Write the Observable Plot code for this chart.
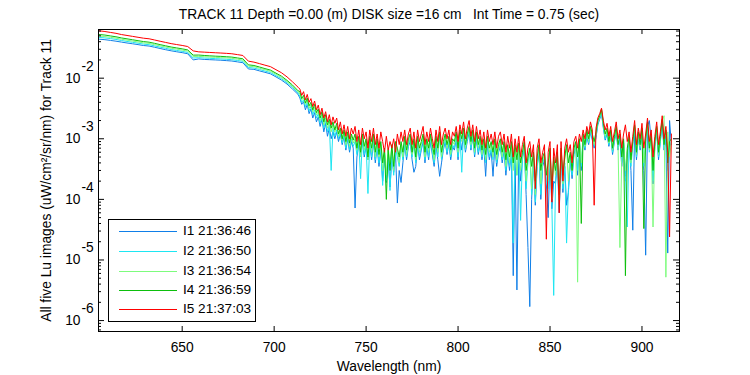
<!DOCTYPE html>
<html><head><meta charset="utf-8">
<script src="https://cdn.jsdelivr.net/npm/d3@7"></script>
<script src="https://cdn.jsdelivr.net/npm/@observablehq/plot@0.6"></script>
<style>
body{margin:0;background:#fff;}
#wrap{position:relative;width:750px;height:375px;font-family:"Liberation Sans",Arial,sans-serif;color:#000;}
#legend{position:absolute;left:108px;top:219px;width:148px;height:103px;border:1px solid #000;box-sizing:border-box;background:#fff;font-size:13.6px;}
.row{position:absolute;left:0;height:18px;line-height:18px;width:100%;}
.ln{position:absolute;left:10px;top:9px;width:58px;height:1px;}
.tx{position:absolute;left:74px;top:0;white-space:nowrap;}
</style>
</head><body>
<div id="wrap"><div id="chart"></div><div id="legend"></div></div>
<script>
const title = "TRACK 11 Depth =0.00 (m) DISK size =16 cm\u00a0\u00a0 Int Time = 0.75 (sec)";
const xLabel = "Wavelength (nm)";
const yLabel = "All five Lu images (uW/cm\u00b2/sr/nm) for Track 11";
const seriesNames = ["I1 21:36:46","I2 21:36:50","I3 21:36:54","I4 21:36:59","I5 21:37:03"];
const seriesColors = ["#0f7fe8","#1ee6f2","#7dfc7d","#0cbf0c","#ff0000"];
const xTicks = [650,700,750,800,850,900];
const yMajor = [1e-6,1e-5,1e-4,1e-3,1e-2];
const yExp = ["-6","-5","-4","-3","-2"];
const decades = [1e-7,1e-6,1e-5,1e-4,1e-3,1e-2];
const minorMult = [2,3,4,5,6,7,8,9];

const wavelength = [605,608,611,614,617,620,623,626,629,632,635,638,641,644,647,650,653,656,659,662,665,668,671,674,677,680,683,686,689,692,695,698,701,704,707,710,713,
714,715,716,717,718,719,720,721,722,723,
724,725,726,727,728,729,730,731,732,733,
734,735,736,737,738,739,740,741,742,743,
744,745,746,747,748,749,750,751,752,753,
754,755,756,757,758,759,760,761,762,763,
764,765,766,767,768,769,770,771,772,773,
774,775,776,777,778,779,780,781,782,783,
784,785,786,787,788,789,790,791,792,793,
794,795,796,797,798,799,800,801,802,803,
804,805,806,807,808,809,810,811,812,813,
814,815,816,817,818,819,820,821,822,823,
824,825,826,827,828,829,830,831,832,833,
834,835,836,837,838,839,840,841,842,843,
844,845,846,847,848,849,850,851,852,853,
854,855,856,857,858,859,860,861,862,863,
864,865,866,867,868,869,870,871,872,873,
874,875,876,877,878,879,880,881,882,883,
884,885,886,887,888,889,890,891,892,893,
894,895,896,897,898,899,900,901,902,903,
904,905,906,907,908,909,910,911,912,913,
914,915,916];

const I5 = [.0605,.0589,.0569,.0550,.0525,.0507,.0490,.0473,.0457,.0447,.0427,.0407,.0389,.0372,.0359,.0347,.0333,.0282,.0272,.0269,.0266,.0263,.0260,.0257,.0253,.0245,.0237,.0191,.0184,.0174,.0164,.0155,.0138,.0123,.0105,.0087,.0071,
66e-4,52e-4,60e-4,44e-4,54e-4,40e-4,46e-4,34e-4,42e-4,30e-4,
36e-4,25e-4,32e-4,22e-4,28e-4,19e-4,25e-4,17e-4,23e-4,18e-4,
22e-4,14e-4,19e-4,12e-4,17e-4,11e-4,16e-4,10e-4,15e-4,12e-4,
16e-4,9e-4,14e-4,8e-4,15e-4,10e-4,13e-4,7e-4,14e-4,9e-4,
15e-4,8e-4,12e-4,7e-4,13e-4,9e-4,6e-4,11e-4,6.5e-4,9e-4,
7e-4,10e-4,6e-4,12e-4,8e-4,13e-4,9e-4,14e-4,8e-4,12e-4,
15e-4,8e-4,13e-4,7e-4,14e-4,9e-4,12e-4,16e-4,8e-4,13e-4,
9e-4,15e-4,10e-4,7e-4,14e-4,9e-4,16e-4,8e-4,12e-4,15e-4,
10e-4,14e-4,8e-4,13e-4,11e-4,16e-4,9e-4,17e-4,12e-4,19e-4,
10e-4,15e-4,20e-4,11e-4,17e-4,9e-4,16e-4,10e-4,14e-4,8e-4,
13e-4,7e-4,14e-4,9e-4,12e-4,8e-4,13e-4,7e-4,11e-4,13e-4,
8e-4,12e-4,6e-4,11e-4,7e-4,12e-4,5e-4,10e-4,6e-4,11e-4,
5e-4,8e-4,11e-4,4e-4,7e-4,9e-4,5e-4,8e-4,1.5e-4,7e-4,
10e-4,4e-4,6e-4,8e-4,.22e-4,6e-4,9e-4,.9e-4,7e-4,4e-4,
8e-4,.6e-4,9e-4,2e-4,7e-4,10e-4,6e-4,8e-4,4e-4,9e-4,
11e-4,7e-4,12e-4,9e-4,14e-4,10e-4,16e-4,12e-4,19e-4,14e-4,
.8e-4,15e-4,22e-4,26e-4,32e-4,20e-4,14e-4,18e-4,11e-4,16e-4,
9e-4,13e-4,19e-4,10e-4,14e-4,7e-4,12e-4,17e-4,9e-4,13e-4,
6e-4,11e-4,20e-4,8e-4,15e-4,10e-4,18e-4,7e-4,12e-4,22e-4,
9e-4,14e-4,5e-4,11e-4,19e-4,8e-4,13e-4,24e-4,10e-4,16e-4,
6e-4,.24e-4,12e-4];

const I4 = [.0525,.0515,.0498,.0482,.0462,.0446,.0431,.0416,.0402,.0393,.0376,.0358,.0342,.0327,.0316,.0305,.0293,.0240,.0241,.0237,.0234,.0231,.0229,.0226,.0223,.0216,.0209,.0166,.0162,.0153,.0144,.0136,.0121,.0108,.0092,.0077,.0062,
60e-4,46e-4,52e-4,39e-4,47e-4,35e-4,40e-4,30e-4,37e-4,27e-4,
31e-4,22e-4,28e-4,19e-4,25e-4,17e-4,21e-4,15e-4,19e-4,14e-4,
18e-4,12e-4,15e-4,10e-4,14e-4,9e-4,13e-4,8.5e-4,12e-4,9.5e-4,
12e-4,7e-4,11e-4,6e-4,12e-4,7.5e-4,10e-4,5e-4,11e-4,7e-4,
12e-4,6e-4,10e-4,5.5e-4,9e-4,4e-4,7e-4,1e-4,6.5e-4,3e-4,
8e-4,3.5e-4,9e-4,7e-4,5e-4,9e-4,6e-4,11e-4,6.5e-4,10e-4,
12e-4,6e-4,10e-4,5e-4,11e-4,7e-4,9e-4,12e-4,6e-4,10e-4,
7e-4,12e-4,8e-4,5.5e-4,11e-4,7e-4,13e-4,6e-4,9e-4,12e-4,
8e-4,11e-4,6.5e-4,10e-4,9e-4,13e-4,7e-4,14e-4,10e-4,15e-4,
8e-4,12e-4,16e-4,9e-4,14e-4,7e-4,13e-4,8e-4,11e-4,6.5e-4,
10e-4,5.5e-4,11e-4,7e-4,9e-4,6e-4,10e-4,5.5e-4,8e-4,10e-4,
6e-4,9e-4,4.5e-4,8e-4,5e-4,9e-4,4e-4,8e-4,4.5e-4,8.5e-4,
4e-4,6e-4,9e-4,3e-4,5e-4,7e-4,3.5e-4,6e-4,2e-4,5e-4,
8e-4,3e-4,5e-4,6e-4,2.5e-4,4e-4,7e-4,1.5e-4,5e-4,3e-4,
6e-4,1.2e-4,7e-4,2.5e-4,5e-4,8e-4,4e-4,6e-4,3e-4,7e-4,
9e-4,5e-4,10e-4,.4e-4,12e-4,8e-4,14e-4,10e-4,16e-4,12e-4,
9e-4,13e-4,20e-4,24e-4,31e-4,18e-4,12e-4,15e-4,9e-4,14e-4,
7e-4,11e-4,16e-4,8e-4,12e-4,5e-4,10e-4,.055e-4,7e-4,11e-4,
4.5e-4,9e-4,17e-4,6e-4,13e-4,8e-4,15e-4,.33e-4,10e-4,19e-4,
7e-4,12e-4,3e-4,9e-4,16e-4,6e-4,11e-4,21e-4,8e-4,14e-4,
4e-4,9e-4,10e-4];

const I3 = [.0495,.0487,.0472,.0458,.0440,.0424,.0410,.0396,.0383,.0375,.0358,.0342,.0327,.0312,.0302,.0291,.0280,.0228,.0229,.0226,.0223,.0221,.0218,.0216,.0213,.0206,.0199,.0158,.0155,.0146,.0138,.0130,.0116,.0103,.0088,.0073,.0060,
55e-4,44e-4,47e-4,37e-4,43e-4,32e-4,37e-4,28e-4,33e-4,25e-4,
28e-4,20e-4,25e-4,17e-4,22e-4,15e-4,19e-4,13e-4,17e-4,13e-4,
16e-4,11e-4,14e-4,9.5e-4,13e-4,8e-4,12e-4,7.5e-4,11e-4,8.5e-4,
10e-4,6.5e-4,10e-4,5e-4,11e-4,6.5e-4,9e-4,4.5e-4,10e-4,6e-4,
11e-4,5e-4,9e-4,5e-4,8e-4,3e-4,6.5e-4,2.5e-4,7e-4,4e-4,
7.5e-4,3e-4,8e-4,6e-4,4e-4,8e-4,5e-4,10e-4,5.5e-4,9e-4,
11e-4,5.5e-4,9e-4,4.5e-4,10e-4,6e-4,8e-4,11e-4,5e-4,9e-4,
6e-4,11e-4,7e-4,4.5e-4,10e-4,6e-4,12e-4,5e-4,8e-4,11e-4,
7e-4,10e-4,5.5e-4,9e-4,8e-4,12e-4,6e-4,13e-4,9e-4,14e-4,
7e-4,11e-4,15e-4,8e-4,13e-4,6e-4,12e-4,7e-4,10e-4,5.5e-4,
9e-4,4.5e-4,10e-4,6e-4,8e-4,5e-4,9e-4,4.5e-4,7e-4,9e-4,
5e-4,8e-4,3.5e-4,7e-4,4e-4,8e-4,3e-4,7e-4,2.5e-4,7.5e-4,
3e-4,5.5e-4,8.5e-4,2e-4,4.5e-4,6.5e-4,1.5e-4,5.5e-4,1.2e-4,4.5e-4,
7e-4,1.8e-4,4.5e-4,5.5e-4,3e-4,2e-4,6.5e-4,1e-4,4.5e-4,2.5e-4,
5.5e-4,.9e-4,6.5e-4,1.8e-4,4.5e-4,7.5e-4,2e-4,5.5e-4,3e-4,6.5e-4,
8.5e-4,.043e-4,9.5e-4,4e-4,11e-4,7.5e-4,13e-4,9e-4,15e-4,11e-4,
8e-4,12e-4,19e-4,23e-4,29e-4,17e-4,11e-4,14e-4,8.5e-4,13e-4,
6.5e-4,10e-4,15e-4,7.5e-4,.16e-4,4.5e-4,9.5e-4,3e-4,6.5e-4,10e-4,
4e-4,8.5e-4,16e-4,5.5e-4,12e-4,7.5e-4,14e-4,4e-4,9.5e-4,18e-4,
6.5e-4,11e-4,.35e-4,8.5e-4,15e-4,5.5e-4,10e-4,20e-4,24e-4,.052e-4,
13e-4,5e-4,9e-4];

const I2 = [.0470,.0462,.0450,.0436,.0418,.0404,.0391,.0378,.0365,.0357,.0341,.0325,.0311,.0297,.0287,.0277,.0266,.0215,.0218,.0215,.0213,.0210,.0208,.0205,.0202,.0196,.0190,.0150,.0147,.0139,.0131,.0124,.0110,.0098,.0084,.0070,.0057,
50e-4,40e-4,44e-4,34e-4,40e-4,29e-4,34e-4,25e-4,30e-4,22e-4,
26e-4,18e-4,23e-4,15e-4,20e-4,13e-4,17e-4,3e-4,15e-4,11e-4,
14e-4,10e-4,13e-4,8.5e-4,12e-4,7e-4,11e-4,6.5e-4,10e-4,7.5e-4,
9e-4,5.5e-4,9e-4,2.2e-4,10e-4,5.5e-4,8e-4,1.25e-4,9e-4,5e-4,
10e-4,4.5e-4,8e-4,4e-4,7e-4,1.7e-4,6e-4,2e-4,5.5e-4,1.4e-4,
6e-4,2.5e-4,7e-4,5e-4,3.5e-4,7e-4,4.5e-4,9e-4,5e-4,8e-4,
10e-4,5e-4,8e-4,4e-4,9e-4,5e-4,7e-4,10e-4,4.5e-4,8e-4,
5e-4,10e-4,6e-4,4e-4,9e-4,5e-4,11e-4,4.5e-4,7e-4,10e-4,
6e-4,9e-4,5e-4,8e-4,7e-4,11e-4,5e-4,12e-4,2.8e-4,13e-4,
6.5e-4,10e-4,14e-4,7e-4,12e-4,5.5e-4,11e-4,6e-4,9e-4,5e-4,
8e-4,4e-4,9e-4,5e-4,7e-4,4.5e-4,8e-4,4e-4,6.5e-4,8e-4,
4.5e-4,7e-4,3e-4,6e-4,3.5e-4,7e-4,.19e-4,6e-4,2.5e-4,6.5e-4,
.45e-4,5e-4,8e-4,1.5e-4,4e-4,6e-4,1.2e-4,5e-4,.9e-4,4e-4,
6.5e-4,1.2e-4,4e-4,5e-4,2e-4,1.5e-4,6e-4,.8e-4,.026e-4,2e-4,
5e-4,.7e-4,6e-4,1.5e-4,4e-4,.19e-4,1.5e-4,5e-4,2.5e-4,6e-4,
8e-4,3e-4,9e-4,3.5e-4,10e-4,7e-4,12e-4,8.5e-4,14e-4,10e-4,
7.5e-4,11e-4,18e-4,22e-4,27e-4,16e-4,10e-4,13e-4,8e-4,12e-4,
6e-4,9.5e-4,14e-4,7e-4,11e-4,4e-4,9e-4,2.5e-4,.35e-4,9.5e-4,
3.5e-4,8e-4,15e-4,5e-4,11e-4,7e-4,13e-4,3.5e-4,9e-4,17e-4,
6e-4,10e-4,2e-4,8e-4,14e-4,5e-4,9.5e-4,19e-4,7e-4,11e-4,
3e-4,7e-4,9e-4];

const I1 = [.0440,.0432,.0420,.0408,.0394,.0381,.0370,.0358,.0346,.0339,.0324,.0309,.0295,.0283,.0273,.0264,.0253,.0200,.0208,.0204,.0202,.0200,.0198,.0195,.0192,.0186,.0180,.0142,.0140,.0132,.0125,.0118,.0105,.0093,.0080,.0066,.0054,
47e-4,37e-4,41e-4,30e-4,37e-4,26e-4,31e-4,22e-4,27e-4,19e-4,
23e-4,16e-4,21e-4,13e-4,18e-4,11e-4,15e-4,10e-4,13e-4,10e-4,
13e-4,9e-4,12e-4,8e-4,11e-4,6.5e-4,10e-4,6e-4,9e-4,7e-4,
.72e-4,5e-4,8e-4,5.5e-4,9e-4,5e-4,7.5e-4,4.5e-4,8.5e-4,4.5e-4,
9e-4,4e-4,7.5e-4,3.5e-4,6.5e-4,2e-4,5.5e-4,1.9e-4,5e-4,1.6e-4,
5e-4,2.8e-4,6e-4,.87e-4,3e-4,1.9e-4,4e-4,8e-4,4.5e-4,7.5e-4,
9e-4,4.5e-4,2.8e-4,3.5e-4,8e-4,4.5e-4,6.5e-4,9e-4,4e-4,7.5e-4,
4.5e-4,9e-4,5.5e-4,3.5e-4,8e-4,4.5e-4,2.4e-4,4e-4,6.5e-4,9e-4,
5.5e-4,8.5e-4,4.5e-4,7.5e-4,6.5e-4,10e-4,4.5e-4,11e-4,6.5e-4,12e-4,
6e-4,9e-4,13e-4,6.5e-4,11e-4,5e-4,10e-4,5.5e-4,8.5e-4,4.5e-4,
7.5e-4,2.4e-4,8.5e-4,4.5e-4,6.5e-4,2.4e-4,7.5e-4,3.5e-4,6e-4,7.5e-4,
4e-4,6.5e-4,2.5e-4,5.5e-4,3e-4,6.5e-4,.055e-4,5.5e-4,.032e-4,6e-4,
2e-4,4.5e-4,7.5e-4,1.2e-4,.16e-4,.017e-4,1e-4,4.5e-4,.8e-4,3.5e-4,
6e-4,1e-4,3.5e-4,4.5e-4,1.8e-4,.5e-4,5.5e-4,.7e-4,2e-4,1.8e-4,
4.5e-4,.6e-4,5.5e-4,1.3e-4,3.5e-4,.8e-4,1.3e-4,4.5e-4,2.2e-4,5.5e-4,
7.5e-4,2.5e-4,8.5e-4,3e-4,9.5e-4,6.5e-4,11e-4,8e-4,13e-4,9.5e-4,
7e-4,10.5e-4,17e-4,21e-4,26e-4,15e-4,9.5e-4,12e-4,7.5e-4,11.5e-4,
5.5e-4,9e-4,13e-4,6.5e-4,10.5e-4,3.5e-4,8.5e-4,2e-4,6e-4,9e-4,
3e-4,.31e-4,14e-4,4.5e-4,10.5e-4,6.5e-4,12e-4,3e-4,.12e-4,16e-4,
20e-4,9.5e-4,1.8e-4,7.5e-4,13e-4,4.5e-4,9e-4,18e-4,6.5e-4,10.5e-4,
.13e-4,20e-4,8e-4];

const series = [I1, I2, I3, I4, I5];
const yDomain = [6.6e-7, 0.0636];
const yMinor = decades.flatMap(d => minorMult.map(m => d * m)).filter(v => v > yDomain[0] && v < yDomain[1]);

const lineMarks = series.map((s, k) => Plot.line(
  wavelength.map((w, i) => ({wl: w, v: s[i]})),
  {x: "wl", y: "v", stroke: seriesColors[k], strokeWidth: 1, clip: true}
));

const chart = Plot.plot({
  width: 750, height: 375,
  marginLeft: 98, marginRight: 71, marginTop: 29, marginBottom: 44,
  x: {domain: [604.5, 920.4], axis: null},
  y: {type: "log", domain: yDomain, axis: null},
  style: {fontFamily: "Liberation Sans, Arial, sans-serif", fontSize: "13.8px", background: "white", overflow: "visible", color: "black"},
  marks: [
    ...lineMarks,
    Plot.frame({stroke: "black", strokeWidth: 1}),
    Plot.ruleX(xTicks, {x: d => d, insetTop: 297, stroke: "black"}),
    Plot.ruleX(xTicks, {x: d => d, insetBottom: 297, stroke: "black"}),
    Plot.ruleY(yMajor, {y: d => d, insetRight: 575, stroke: "black"}),
    Plot.ruleY(yMajor, {y: d => d, insetLeft: 575, stroke: "black"}),
    Plot.ruleY(yMinor, {y: d => d, insetRight: 578, stroke: "black"}),
    Plot.ruleY(yMinor, {y: d => d, insetLeft: 578, stroke: "black"}),
    Plot.text(xTicks, {x: d => d, frameAnchor: "bottom", lineAnchor: "middle", dy: 16, text: d => String(d), fill: "black"}),
    Plot.text(yMajor, {y: d => d, frameAnchor: "left", lineAnchor: "middle", dx: -18, textAnchor: "end", text: () => "10", fill: "black"}),
    Plot.text(yMajor, {y: d => d, frameAnchor: "left", lineAnchor: "middle", dx: -17, dy: -12, textAnchor: "start", text: (d, i) => yExp[i], fill: "black"}),
    Plot.text([title], {frameAnchor: "top", lineAnchor: "middle", textAnchor: "middle", dy: -15, text: d => d, fill: "black"}),
    Plot.text([xLabel], {frameAnchor: "bottom", lineAnchor: "middle", textAnchor: "middle", dy: 35, text: d => d, fill: "black"}),
    Plot.text([yLabel], {frameAnchor: "left", lineAnchor: "middle", textAnchor: "middle", dx: -52, rotate: -90, text: d => d, fill: "black"})
  ]
});
document.getElementById("chart").appendChild(chart);

const legend = document.getElementById("legend");
const rowCenters = [12, 32, 52, 71, 90];
seriesNames.forEach((name, k) => {
  const row = document.createElement("div");
  row.className = "row";
  row.style.top = (rowCenters[k] - 10) + "px";
  const ln = document.createElement("span");
  ln.className = "ln";
  ln.style.background = seriesColors[k];
  const tx = document.createElement("span");
  tx.className = "tx";
  tx.textContent = name;
  row.appendChild(ln); row.appendChild(tx);
  legend.appendChild(row);
});
</script>
</body></html>
